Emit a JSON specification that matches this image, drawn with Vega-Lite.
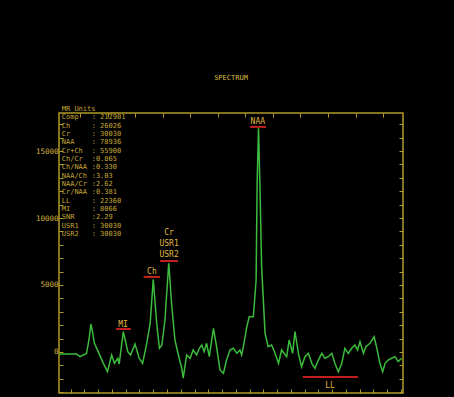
{
  "$schema": "https://vega.github.io/schema/vega-lite/v6.json",
  "width": 344,
  "height": 280,
  "autosize": {"type": "none"},
  "padding": {"left": 59, "top": 113, "right": 51, "bottom": 4},
  "background": "#000000",
  "title": {"text": "SPECTRUM", "color": "#d8b840", "font": "DejaVu Sans Mono", "fontSize": 7, "fontWeight": "normal", "offset": 24},
  "config": {
    "view": {"stroke": "#b09a28", "strokeWidth": 1.5},
    "axis": {"grid": false, "domain": false, "tickColor": "#b09a28", "tickWidth": 1, "labelColor": "#d4b43c", "labelFont": "DejaVu Sans Mono", "labelFontSize": 7.5, "title": null}
  },
  "datasets": {
    "spectrum": [
      {"i": 0, "v": -150}, {"i": 5.1, "v": -150}, {"i": 6.1, "v": -350}, {"i": 7.1, "v": -224}, {"i": 8.0, "v": -100},
      {"i": 8.7, "v": 895}, {"i": 9.3, "v": 2090}, {"i": 10.3, "v": 650}, {"i": 11.4, "v": 25}, {"i": 12.9, "v": -845},
      {"i": 14.1, "v": -1470}, {"i": 15.3, "v": -224}, {"i": 16.1, "v": -845}, {"i": 17.1, "v": -470}, {"i": 17.5, "v": -895},
      {"i": 18.7, "v": 1515}, {"i": 20.0, "v": 25}, {"i": 20.8, "v": -224}, {"i": 22.1, "v": 600}, {"i": 23.3, "v": -470},
      {"i": 24.3, "v": -845}, {"i": 25.5, "v": 650}, {"i": 26.5, "v": 2140}, {"i": 27.4, "v": 5420}, {"i": 28.4, "v": 2140},
      {"i": 29.2, "v": 275}, {"i": 29.9, "v": 520}, {"i": 30.8, "v": 2390}, {"i": 31.9, "v": 6620}, {"i": 32.8, "v": 3380},
      {"i": 33.7, "v": 895}, {"i": 34.7, "v": -224}, {"i": 35.7, "v": -1220}, {"i": 36.1, "v": -1960}, {"i": 37.1, "v": -224},
      {"i": 38.1, "v": -470}, {"i": 39.0, "v": 150}, {"i": 40.0, "v": -224}, {"i": 40.8, "v": 275}, {"i": 41.5, "v": 520},
      {"i": 42.2, "v": 25}, {"i": 42.9, "v": 650}, {"i": 43.7, "v": -350}, {"i": 44.9, "v": 1770}, {"i": 45.8, "v": 400},
      {"i": 46.8, "v": -1340}, {"i": 47.8, "v": -1590}, {"i": 48.7, "v": -600}, {"i": 49.7, "v": 150}, {"i": 50.7, "v": 275},
      {"i": 51.7, "v": -100}, {"i": 52.6, "v": 150}, {"i": 53.1, "v": -224}, {"i": 53.6, "v": 400}, {"i": 54.6, "v": 1890},
      {"i": 55.3, "v": 2630}, {"i": 56.5, "v": 2630}, {"i": 57.3, "v": 5370}, {"i": 57.6, "v": 12580}, {"i": 58.0, "v": 16690},
      {"i": 58.4, "v": 12580}, {"i": 58.9, "v": 6370}, {"i": 59.9, "v": 1390}, {"i": 60.8, "v": 400}, {"i": 61.8, "v": 520},
      {"i": 62.8, "v": -100}, {"i": 63.8, "v": -845}, {"i": 64.7, "v": 150}, {"i": 66.2, "v": -350}, {"i": 66.9, "v": 895},
      {"i": 67.9, "v": -100}, {"i": 68.6, "v": 1515}, {"i": 69.6, "v": -100}, {"i": 70.5, "v": -1095}, {"i": 71.5, "v": -350},
      {"i": 72.5, "v": -100}, {"i": 73.5, "v": -845}, {"i": 74.4, "v": -1220}, {"i": 75.4, "v": -600}, {"i": 76.4, "v": -100},
      {"i": 77.3, "v": -470}, {"i": 78.3, "v": -350}, {"i": 79.3, "v": -100}, {"i": 80.2, "v": -845}, {"i": 81.2, "v": -1470},
      {"i": 82.2, "v": -845}, {"i": 83.1, "v": 275}, {"i": 84.1, "v": -100}, {"i": 85.1, "v": 275}, {"i": 86.0, "v": 520},
      {"i": 86.8, "v": 150}, {"i": 87.5, "v": 770}, {"i": 88.5, "v": -100}, {"i": 89.2, "v": 400}, {"i": 90.4, "v": 650},
      {"i": 91.6, "v": 1140}, {"i": 92.4, "v": 275}, {"i": 93.3, "v": -845}, {"i": 94.1, "v": -1470}, {"i": 94.8, "v": -845},
      {"i": 95.7, "v": -600}, {"i": 96.7, "v": -470}, {"i": 97.7, "v": -350}, {"i": 98.6, "v": -720}, {"i": 99.6, "v": -470}
    ],
    "stats": [
      {"name": "MR Units", "val": "", "v": 18128},
      {"name": "Comp", "val": ": 212901", "v": 17508},
      {"name": "Ch", "val": ": 26026", "v": 16885},
      {"name": "Cr", "val": ": 30030", "v": 16263},
      {"name": "NAA", "val": ": 78936", "v": 15641},
      {"name": "Cr+Ch", "val": ": 55900", "v": 15020},
      {"name": "Ch/Cr", "val": ":0.865", "v": 14398},
      {"name": "Ch/NAA", "val": ":0.330", "v": 13776},
      {"name": "NAA/Ch", "val": ":3.03", "v": 13155},
      {"name": "NAA/Cr", "val": ":2.62", "v": 12533},
      {"name": "Cr/NAA", "val": ":0.381", "v": 11911},
      {"name": "LL", "val": ": 22360", "v": 11290},
      {"name": "MI", "val": ": 8066", "v": 10668},
      {"name": "SNR", "val": ":2.29", "v": 10046},
      {"name": "USR1", "val": ": 30030", "v": 9424},
      {"name": "USR2", "val": ": 30030", "v": 8803}
    ],
    "peaks": [
      {"label": "NAA", "i": 57.8, "v": 17160},
      {"label": "Ch", "i": 27.0, "v": 5970},
      {"label": "Cr", "i": 32.0, "v": 8880},
      {"label": "USR1", "i": 32.0, "v": 8060},
      {"label": "USR2", "i": 32.0, "v": 7240},
      {"label": "MI", "i": 18.6, "v": 2015},
      {"label": "LL", "i": 78.8, "v": -2540}
    ],
    "marks": [
      {"label": "NAA", "a": 55.5, "b": 60.2, "v": 16800},
      {"label": "Ch", "a": 24.6, "b": 29.4, "v": 5600},
      {"label": "Cr", "a": 29.4, "b": 34.6, "v": 6790},
      {"label": "MI", "a": 16.6, "b": 20.9, "v": 1715},
      {"label": "LL", "a": 70.9, "b": 86.9, "v": -1865}
    ]
  },
  "resolve": {"axis": {"x": "independent", "y": "independent"}},
  "layer": [
    {
      "data": {"name": "spectrum"},
      "mark": {"type": "line", "color": "#3cbc3c", "strokeWidth": 1.5, "interpolate": "linear"},
      "encoding": {
        "x": {"field": "i", "type": "quantitative", "scale": {"domain": [0, 100], "nice": false, "zero": false},
          "axis": {"orient": "bottom", "values": [3.4, 7.4, 11.4, 15.4, 19.4, 23.4, 27.4, 31.4, 35.4, 39.4, 43.4, 47.4, 51.4, 55.4, 59.4, 63.4, 67.4, 71.4, 75.4, 79.4, 83.4, 87.4, 91.4, 95.4, 99.4], "tickSize": -4, "labels": false}},
        "y": {"field": "v", "type": "quantitative", "scale": {"domain": [-3060, 17836], "nice": false, "zero": false},
          "axis": {"orient": "left", "values": [0, 5000, 10000, 15000], "format": "d", "ticks": false, "labelPadding": 1}}
      }
    },
    {
      "data": {"name": "stats"},
      "mark": {"type": "text", "align": "left", "baseline": "middle", "font": "DejaVu Sans Mono", "fontSize": 7, "color": "#c4a636", "clip": false},
      "encoding": {
        "x": {"datum": 0.8, "type": "quantitative",
          "axis": {"orient": "top", "values": [6.2, 14.2, 22.2, 30.2, 38.2, 46.2, 54.2, 62.2, 70.2, 78.2, 86.2, 94.2], "tickSize": -4, "labels": false}},
        "y": {"field": "v", "type": "quantitative",
          "axis": {"orient": "left", "values": [-3000, -2000, -1000, 0, 1000, 2000, 3000, 4000, 5000, 6000, 7000, 8000, 9000, 10000, 11000, 12000, 13000, 14000, 15000, 16000, 17000], "tickSize": -4, "labels": false}},
        "text": {"field": "name"}
      }
    },
    {
      "data": {"name": "stats"},
      "mark": {"type": "text", "align": "left", "baseline": "middle", "font": "DejaVu Sans Mono", "fontSize": 7, "color": "#c4a636", "clip": false},
      "encoding": {
        "x": {"datum": 9.5, "type": "quantitative", "axis": null},
        "y": {"field": "v", "type": "quantitative",
          "axis": {"orient": "right", "values": [-3000, -2000, -1000, 0, 1000, 2000, 3000, 4000, 5000, 6000, 7000, 8000, 9000, 10000, 11000, 12000, 13000, 14000, 15000, 16000, 17000], "tickSize": -4, "labels": false}},
        "text": {"field": "val"}
      }
    },
    {
      "data": {"name": "marks"},
      "mark": {"type": "rule", "color": "#c02020", "strokeWidth": 2},
      "encoding": {
        "x": {"field": "a", "type": "quantitative", "axis": null},
        "x2": {"field": "b"},
        "y": {"field": "v", "type": "quantitative", "axis": null}
      }
    },
    {
      "data": {"name": "peaks"},
      "mark": {"type": "text", "align": "center", "baseline": "middle", "font": "DejaVu Sans Mono", "fontSize": 8, "color": "#e0b840"},
      "encoding": {
        "x": {"field": "i", "type": "quantitative", "axis": null},
        "y": {"field": "v", "type": "quantitative", "axis": null},
        "text": {"field": "label"}
      }
    }
  ]
}
